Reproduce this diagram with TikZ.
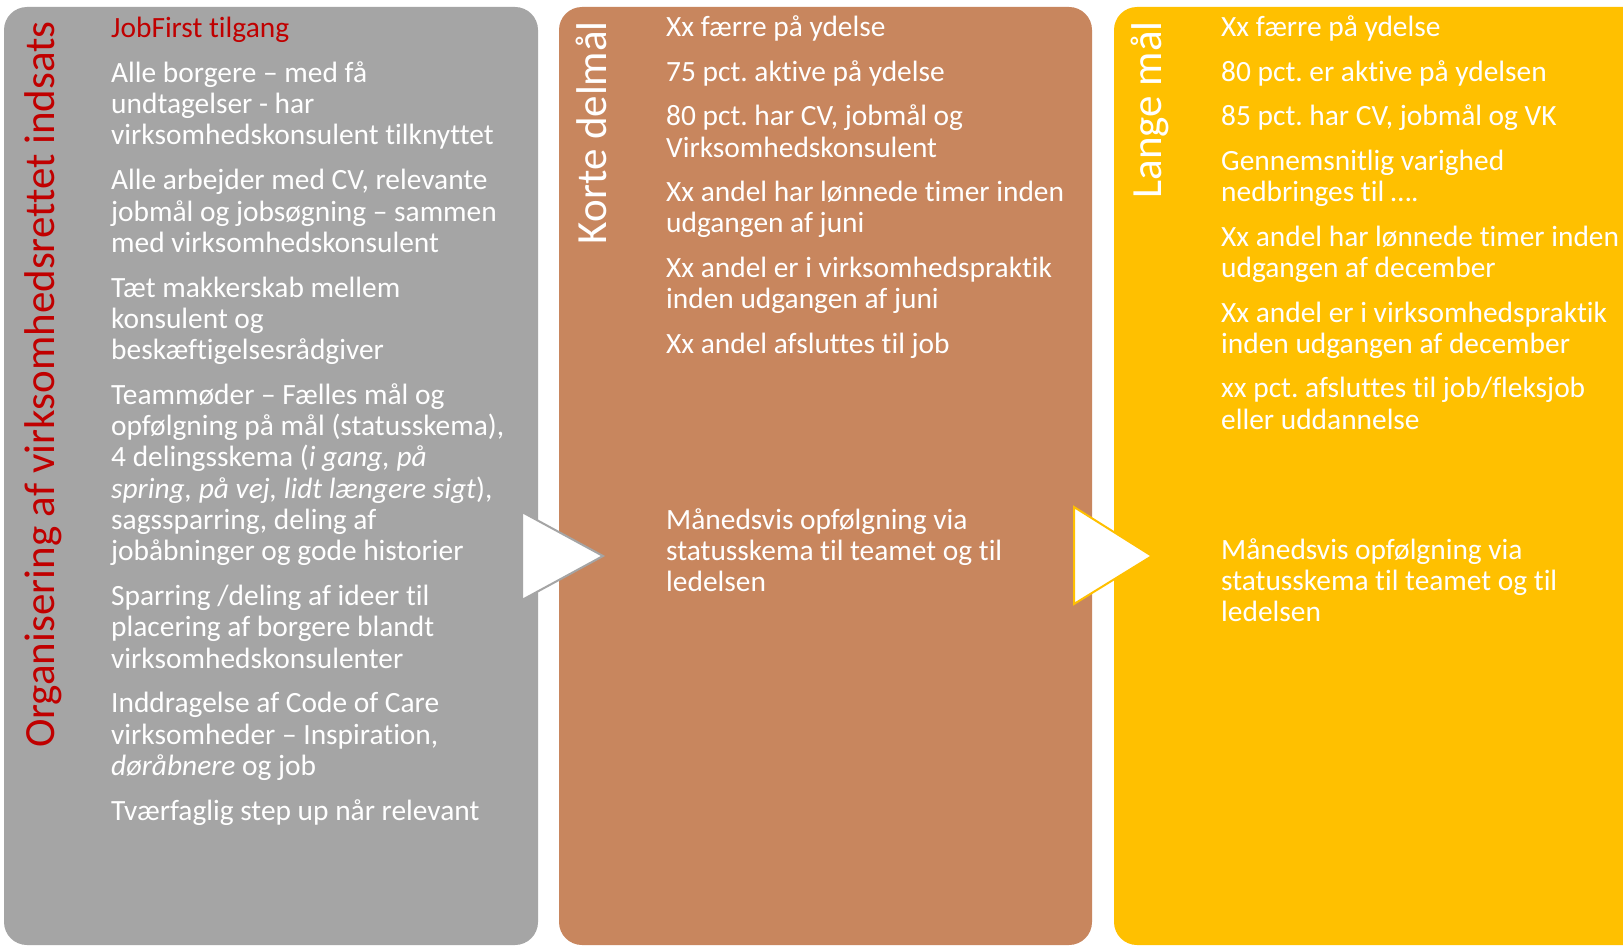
\documentclass[tikz,border=0pt]{standalone}
\usepackage{fontspec}
\setmainfont{Carlito}[Ligatures={NoCommon}]
\frenchspacing
\definecolor{colgray}{HTML}{A5A5A5}
\definecolor{colbrown}{HTML}{C8865E}
\definecolor{colyellow}{HTML}{FFC000}
\definecolor{colred}{HTML}{C00000}
\begin{document}
\begin{tikzpicture}[x=1pt,y=-1pt,
  colbox/.style={rounded corners=23pt},
  body/.style={anchor=base west, inner sep=0pt, text=white, font=\fontsize{29.4}{31.3}\selectfont},
  coltitle/.style={rotate=90, anchor=base east, inner sep=0pt, font=\fontsize{43}{50}\selectfont},
  tri/.style={fill=white, line width=2pt, line join=miter}]
\useasboundingbox (0,0) rectangle (1623,947);
\clip (0,0) rectangle (1623,947);
\fill[white] (0,0) rectangle (1623,947);
% columns
\fill[colgray, colbox] (4,7) rectangle (538,945);
\fill[colbrown, colbox] (559,7) rectangle (1092,945);
\fill[colyellow, colbox] (1114,7) rectangle (1680,945);
% arrows
\draw[tri, draw=colgray] (522,512) -- (603,556) -- (522,600) -- cycle;
\draw[tri, draw=colyellow] (1074,507) -- (1152,556) -- (1074,604) -- cycle;
% titles
\node[coltitle, text=colred] (t1) at (54,21) {Organisering af virksomhedsrettet indsats};
\node[coltitle, text=white] (t2) at (606,21) {Korte delmål};
\node[coltitle, text=white] (t3) at (1161,21) {Lange mål};
% gray column
\node[body, text=colred] (g1) at (111,37.7) {JobFirst tilgang};
\node[body] (g2) at (111,82.4) {Alle borgere – med få};
\node[body] (g3) at (111,113.7) {undtagelser - har};
\node[body] (g4) at (111,145.0) {virksomhedskonsulent tilknyttet};
\node[body] (g5) at (111,189.7) {Alle arbejder med CV, relevante};
\node[body] (g6) at (111,221.0) {jobmål og jobsøgning – sammen};
\node[body] (g7) at (111,252.3) {med virksomhedskonsulent};
\node[body] (g8) at (111,297.0) {Tæt makkerskab mellem};
\node[body] (g9) at (111,328.3) {konsulent og};
\node[body] (g10) at (111,359.6) {beskæftigelsesrådgiver};
\node[body] (g11) at (111,404.3) {Teammøder – Fælles mål og};
\node[body] (g12) at (111,435.6) {opfølgning på mål (statusskema),};
\node[body] (g13) at (111,466.9) {4 delingsskema (\textit{i gang, på}};
\node[body] (g14) at (111,498.2) {\textit{spring, på vej, lidt længere sigt}),};
\node[body] (g15) at (111,529.5) {sagssparring, deling af};
\node[body] (g16) at (111,560.8) {jobåbninger og gode historier};
\node[body] (g17) at (111,605.5) {Sparring /deling af ideer til};
\node[body] (g18) at (111,636.8) {placering af borgere blandt};
\node[body] (g19) at (111,668.1) {virksomhedskonsulenter};
\node[body] (g20) at (111,712.8) {Inddragelse af Code of Care};
\node[body] (g21) at (111,744.1) {virksomheder – Inspiration,};
\node[body] (g22) at (111,775.4) {\textit{døråbnere} og job};
\node[body] (g23) at (111,820.1) {Tværfaglig step up når relevant};
% brown column
\node[body] (b1) at (666,36.7) {Xx færre på ydelse};
\node[body] (b2) at (666,81.5) {75 pct. aktive på ydelse};
\node[body] (b3) at (666,126.0) {80 pct. har CV, jobmål og};
\node[body] (b4) at (666,157.2) {Virksomhedskonsulent};
\node[body] (b5) at (666,201.0) {Xx andel har lønnede timer inden};
\node[body] (b6) at (666,232.3) {udgangen af juni};
\node[body] (b7) at (666,277.2) {Xx andel er i virksomhedspraktik};
\node[body] (b8) at (666,308.5) {inden udgangen af juni};
\node[body] (b9) at (666,353.0) {Xx andel afsluttes til job};
\node[body] (b10) at (666,529.0) {Månedsvis opfølgning via};
\node[body] (b11) at (666,560.3) {statusskema til teamet og til};
\node[body] (b12) at (666,591.6) {ledelsen};
% yellow column
\node[body] (y1) at (1221,36.7) {Xx færre på ydelse};
\node[body] (y2) at (1221,81.6) {80 pct. er aktive på ydelsen};
\node[body] (y3) at (1221,126.0) {85 pct. har CV, jobmål og VK};
\node[body] (y4) at (1221,170.4) {Gennemsnitlig varighed};
\node[body] (y5) at (1221,201.7) {nedbringes til ….};
\node[body] (y6) at (1221,246.2) {Xx andel har lønnede timer inden};
\node[body] (y7) at (1221,277.5) {udgangen af december};
\node[body] (y8) at (1221,322.0) {Xx andel er i virksomhedspraktik};
\node[body] (y9) at (1221,353.3) {inden udgangen af december};
\node[body] (y10) at (1221,397.8) {xx pct. afsluttes til job/fleksjob};
\node[body] (y11) at (1221,429.1) {eller uddannelse};
\node[body] (y12) at (1221,559.0) {Månedsvis opfølgning via};
\node[body] (y13) at (1221,590.3) {statusskema til teamet og til};
\node[body] (y14) at (1221,621.6) {ledelsen};
\end{tikzpicture}
\end{document}
